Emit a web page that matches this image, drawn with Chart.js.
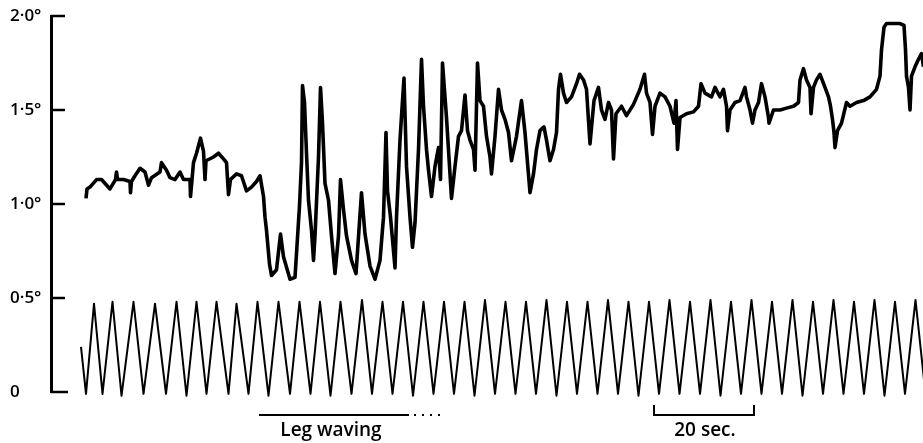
<!DOCTYPE html>
<html>
<head>
<meta charset="utf-8">
<script src="https://cdn.jsdelivr.net/npm/chart.js@4.4.1/dist/chart.umd.min.js"></script>
<style>
  html, body { margin: 0; padding: 0; background: #fff; }
  #wrap { width: 923px; height: 443px; position: relative; }
</style>
</head>
<body>
<div id="wrap"><canvas id="tempChart"></canvas></div>
<script>
// y axis (degrees)
const yTicks = [0, 0.5, 1.0, 1.5, 2.0];
const yTickLabels = ['0', '0·5°', '1·0°', '1·5°', '2·0°'];

// time marker (zig-zag), [sec, value]
const timer = [
  [6.0, 0.24], [7.0, -0.01], [8.6, 0.47], [10.3, -0.01], [12.3, 0.48], [14.1, -0.02], [16.5, 0.48], [18.5, -0.01], [20.8, 0.47], [23.0, -0.01],
  [25.1, 0.48], [27.1, -0.02], [29.1, 0.48], [31.1, -0.01], [33.1, 0.48], [35.5, -0.01], [37.1, 0.47], [39.5, -0.01], [41.3, 0.48], [43.5, -0.02],
  [45.5, 0.48], [47.8, -0.01], [49.7, 0.48], [51.9, -0.01], [53.8, 0.48], [55.9, -0.02], [57.9, 0.48], [60.1, -0.01], [62.2, 0.49], [64.2, -0.01],
  [66.3, 0.48], [68.3, -0.01], [70.4, 0.48], [72.4, -0.02], [74.5, 0.48], [76.5, -0.01], [78.6, 0.48], [80.6, -0.01], [82.7, 0.48], [84.7, -0.02],
  [86.8, 0.49], [88.8, -0.01], [90.9, 0.48], [92.9, -0.01], [95.0, 0.48], [97.0, -0.01], [99.1, 0.49], [101.1, -0.02], [103.2, 0.48], [105.2, -0.01],
  [107.3, 0.48], [109.3, -0.01], [111.4, 0.49], [113.4, -0.01], [115.5, 0.48], [117.5, -0.02], [119.6, 0.48], [121.6, -0.01], [123.7, 0.49], [125.7, -0.01],
  [127.8, 0.48], [129.8, -0.01], [131.9, 0.49], [133.9, -0.02], [136.0, 0.48], [138.0, -0.01], [140.1, 0.49], [142.1, -0.01], [144.2, 0.48], [146.2, -0.01],
  [148.3, 0.49], [150.3, -0.02], [152.4, 0.48], [154.4, -0.01], [156.5, 0.49], [158.5, -0.01], [160.6, 0.48], [162.6, -0.01], [164.7, 0.49], [166.7, -0.02],
  [168.8, 0.48], [170.8, -0.01], [172.9, 0.49], [174.9, -0.01]
];

// temperature trace, [sec, degrees]
const trace = [
  [7.0, 1.03], [7.2, 1.08], [7.8, 1.09], [9.1, 1.13], [10.1, 1.13], [11.8, 1.08], [12.9, 1.13], [13.1, 1.17], [13.3, 1.13], [14.5, 1.13],
  [15.8, 1.12], [15.9, 1.06], [16.1, 1.12], [16.8, 1.15], [17.8, 1.19], [18.8, 1.17], [19.5, 1.10], [20.1, 1.14], [21.8, 1.17], [22.1, 1.22],
  [23.1, 1.18], [23.8, 1.14], [24.8, 1.13], [25.8, 1.17], [26.5, 1.13], [27.8, 1.13], [27.9, 1.04], [28.5, 1.22], [29.1, 1.27], [29.9, 1.35],
  [30.5, 1.28], [30.8, 1.13], [31.0, 1.23], [32.5, 1.25], [33.5, 1.27], [34.5, 1.24], [35.1, 1.22], [35.5, 1.05], [35.9, 1.13], [37.1, 1.16],
  [38.1, 1.15], [39.1, 1.07], [40.1, 1.09], [41.1, 1.12], [41.8, 1.15], [42.5, 1.04], [42.8, 0.93], [43.1, 0.86], [43.7, 0.68], [44.1, 0.62],
  [45.1, 0.65], [45.9, 0.84], [46.5, 0.72], [47.8, 0.60], [48.8, 0.61], [49.7, 0.99], [50.1, 1.22], [50.3, 1.63], [50.7, 1.54], [51.1, 1.27],
  [51.5, 1.02], [52.1, 0.86], [52.5, 0.70], [52.8, 0.83], [53.5, 1.25], [53.9, 1.62], [54.3, 1.43], [54.8, 1.11], [55.5, 1.02], [56.1, 0.83],
  [56.8, 0.63], [57.5, 0.83], [57.9, 1.13], [58.5, 0.97], [59.1, 0.83], [60.1, 0.70], [61.0, 0.63], [62.1, 1.06], [62.8, 0.84], [63.8, 0.67],
  [64.8, 0.60], [65.8, 0.70], [66.5, 0.93], [67.0, 1.38], [67.3, 1.07], [67.9, 0.93], [68.8, 0.66], [69.1, 0.93], [69.8, 1.34], [70.3, 1.55],
  [70.6, 1.67], [71.1, 1.20], [71.8, 0.93], [72.3, 0.77], [72.8, 0.90], [73.5, 1.29], [74.1, 1.77], [74.5, 1.52], [75.1, 1.29], [75.5, 1.18],
  [76.1, 1.04], [76.8, 1.20], [77.5, 1.30], [77.9, 1.13], [78.3, 1.75], [79.1, 1.46], [80.1, 1.03], [80.8, 1.20], [81.5, 1.36], [82.1, 1.39],
  [82.8, 1.58], [83.3, 1.39], [83.8, 1.34], [84.5, 1.29], [84.8, 1.18], [85.3, 1.75], [85.8, 1.55], [86.5, 1.52], [87.1, 1.36], [87.8, 1.25],
  [88.1, 1.16], [88.8, 1.36], [89.5, 1.61], [90.1, 1.50], [90.8, 1.45], [91.5, 1.38], [92.1, 1.23], [93.1, 1.36], [94.1, 1.55], [94.8, 1.38],
  [95.3, 1.22], [95.8, 1.06], [96.5, 1.16], [97.1, 1.29], [97.8, 1.39], [98.6, 1.41], [99.1, 1.34], [99.8, 1.23], [100.5, 1.29], [101.1, 1.38],
  [101.5, 1.61], [101.9, 1.69], [102.5, 1.59], [103.1, 1.54], [104.1, 1.57], [105.1, 1.64], [105.7, 1.69], [106.5, 1.66], [107.1, 1.61], [107.8, 1.32],
  [108.6, 1.55], [109.5, 1.62], [110.1, 1.50], [110.8, 1.45], [111.5, 1.54], [112.1, 1.50], [112.5, 1.24], [113.0, 1.48], [114.1, 1.52], [115.1, 1.47],
  [116.5, 1.53], [117.8, 1.61], [118.7, 1.69], [119.1, 1.59], [119.8, 1.54], [120.3, 1.37], [120.8, 1.52], [121.8, 1.59], [122.8, 1.57], [123.8, 1.52],
  [124.6, 1.43], [125.0, 1.55], [125.3, 1.29], [125.8, 1.46], [127.1, 1.48], [128.5, 1.49], [129.5, 1.52], [130.0, 1.64], [130.8, 1.59], [132.1, 1.57],
  [132.8, 1.62], [133.8, 1.57], [134.5, 1.61], [135.1, 1.52], [135.3, 1.39], [135.8, 1.50], [136.8, 1.54], [137.8, 1.55], [138.8, 1.62], [139.1, 1.57],
  [139.8, 1.50], [140.3, 1.43], [140.8, 1.50], [141.5, 1.54], [142.1, 1.64], [142.8, 1.57], [143.5, 1.46], [143.6, 1.43], [144.5, 1.50], [145.8, 1.50],
  [147.1, 1.51], [148.5, 1.52], [149.5, 1.54], [149.8, 1.66], [150.5, 1.72], [151.1, 1.66], [151.8, 1.62], [152.0, 1.48], [152.5, 1.62], [153.1, 1.66],
  [153.8, 1.69], [154.8, 1.62], [155.5, 1.57], [155.9, 1.52], [156.3, 1.45], [156.6, 1.38], [156.8, 1.30], [157.3, 1.39], [158.1, 1.43], [159.1, 1.54],
  [159.8, 1.52], [161.1, 1.54], [162.5, 1.55], [163.8, 1.57], [165.1, 1.61], [165.8, 1.68], [166.1, 1.82], [166.6, 1.94], [167.1, 1.96], [168.5, 1.96],
  [169.8, 1.96], [170.6, 1.95], [170.9, 1.82], [171.1, 1.68], [171.5, 1.62], [171.8, 1.50], [172.1, 1.68], [172.8, 1.73], [173.5, 1.77], [174.1, 1.80],
  [174.5, 1.73]
];

// annotations below the record (seconds)
const legWaving = [41.6, 71.6, 78.8];   // bar start, bar end, end of dots
const scaleBar = [120.6, 140.6];        // 20 sec
const noteLabels = ['Leg waving', '20 sec.'];

const inkPlugin = {
  id: 'ink',
  afterDraw(chart) {
    const { ctx, chartArea, scales: { x, y } } = chart;
    ctx.save();
    ctx.strokeStyle = '#000';
    ctx.fillStyle = '#000';

    // tick marks point inward
    ctx.lineWidth = 2.5;
    yTicks.forEach((v, i) => {
      const py = y.getPixelForValue(v);
      ctx.beginPath();
      ctx.moveTo(chartArea.left, py);
      ctx.lineTo(chartArea.left + (i === 0 ? 17 : 14), py);
      ctx.stroke();
    });

    const by = chartArea.bottom + 23;
    const l0 = x.getPixelForValue(legWaving[0]);
    const l1 = x.getPixelForValue(legWaving[1]);
    const l2 = x.getPixelForValue(legWaving[2]);
    ctx.lineWidth = 2;
    ctx.beginPath();
    ctx.moveTo(l0, by);
    ctx.lineTo(l1, by);
    ctx.stroke();
    ctx.setLineDash([2, 6]);
    ctx.beginPath();
    ctx.moveTo(l1 + 5, by);
    ctx.lineTo(l2, by);
    ctx.stroke();
    ctx.setLineDash([]);

    const s0 = x.getPixelForValue(scaleBar[0]);
    const s1 = x.getPixelForValue(scaleBar[1]);
    ctx.beginPath();
    ctx.moveTo(s0, by - 10);
    ctx.lineTo(s0, by);
    ctx.lineTo(s1, by);
    ctx.lineTo(s1, by - 10);
    ctx.stroke();

    ctx.font = '600 19px "Open Sans"';
    ctx.textAlign = 'center';
    ctx.textBaseline = 'alphabetic';
    ctx.fillText(noteLabels[0], (l0 + l1) / 2 - 3, chartArea.bottom + 44);
    ctx.fillText(noteLabels[1], (s0 + s1) / 2 + 1, chartArea.bottom + 44);
    ctx.restore();
  }
};

const toPoints = arr => arr.map(p => ({ x: p[0], y: p[1] }));

new Chart(document.getElementById('tempChart'), {
  type: 'line',
  data: {
    datasets: [
      {
        label: 'Time marker',
        data: toPoints(timer),
        borderColor: '#000',
        borderWidth: 2,
        borderJoinStyle: 'round',
        pointRadius: 0,
        tension: 0,
        clip: false
      },
      {
        label: 'Temperature',
        data: toPoints(trace),
        borderColor: '#000',
        borderWidth: 3.6,
        borderJoinStyle: 'round',
        pointRadius: 0,
        tension: 0,
        clip: false
      }
    ]
  },
  options: {
    responsive: true,
    maintainAspectRatio: false,
    animation: false,
    layout: { padding: { left: 10, right: 0, top: 16, bottom: 51 } },
    plugins: {
      legend: { display: false },
      tooltip: { enabled: false }
    },
    scales: {
      x: { type: 'linear', display: false, min: 0, max: 174.4 },
      y: {
        min: 0,
        max: 2,
        afterBuildTicks(scale) { scale.ticks = yTicks.map(v => ({ value: v })); },
        afterFit(scale) { scale.width = 41; },
        grid: { display: false },
        border: { display: true, color: '#000', width: 3 },
        ticks: {
          crossAlign: 'far',
          color: '#000',
          font: { family: 'Open Sans', size: 17, weight: '600' },
          callback: (v, i) => yTickLabels[i]
        }
      }
    }
  },
  plugins: [inkPlugin]
});
</script>
</body>
</html>
